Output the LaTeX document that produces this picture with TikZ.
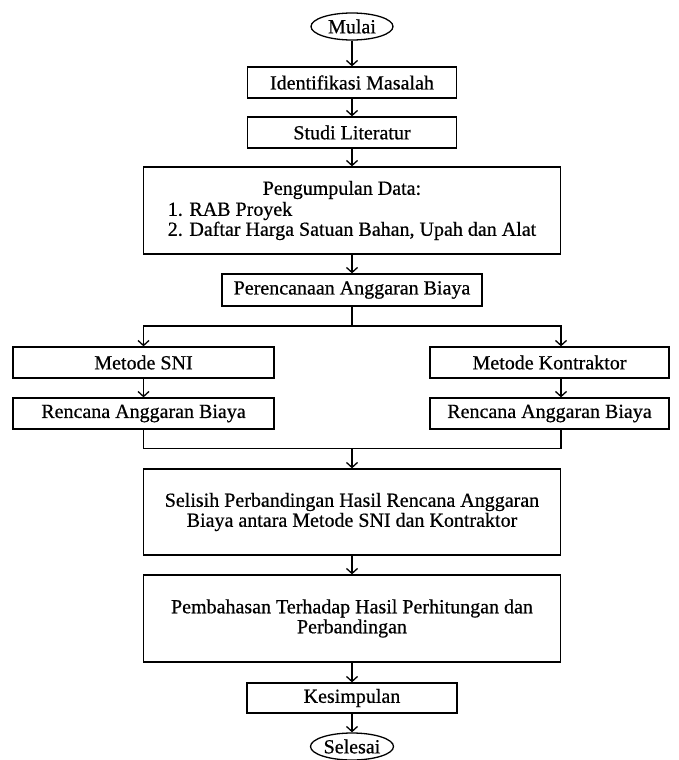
\documentclass[tikz,border=0pt]{standalone}
\usepackage{fontspec}
\setmainfont{Liberation Serif}[FakeBold=0.6]
\usetikzlibrary{arrows.meta,shapes.geometric}
\begin{document}
\begin{tikzpicture}[x=1pt,y=-1pt,
  box/.style={draw, line width=1.3pt, inner sep=0pt, font=\fontsize{20}{20}\selectfont},
  term/.style={ellipse, draw, line width=1.3pt, inner sep=0pt, font=\fontsize{20}{20}\selectfont},
  arr/.style={line width=1.3pt, -{Straight Barb[length=5pt,width=11pt,line width=1.3pt]}},
  ln/.style={line width=1.3pt}]
\useasboundingbox (0,0) rectangle (678,760);
\node[term, minimum width=82pt, minimum height=27pt] (mulai) at (352,26.5) {Mulai};
\node[box, minimum width=209pt, minimum height=31pt] (ident) at (352,82.5) {Identifikasi Masalah};
\node[box, minimum width=209pt, minimum height=31pt] (studi) at (352,132.5) {Studi Literatur};
\node[box, minimum width=417pt, minimum height=87pt, align=left] (data) at (352,210.5)
  {\hspace*{95pt}Pengumpulan Data:\\[1pt]1. RAB Proyek\\2. Daftar Harga Satuan Bahan, Upah dan Alat};
\node[box, minimum width=260pt, minimum height=32pt] (renc) at (352,290) {Perencanaan Anggaran Biaya};
\node[box, minimum width=261pt, minimum height=31pt] (sni) at (143.5,362.5) {Metode SNI};
\node[box, minimum width=239pt, minimum height=31pt] (kon) at (549.5,362.5) {Metode Kontraktor};
\node[box, minimum width=261pt, minimum height=31pt] (rab1) at (143.5,413.5) {Rencana Anggaran Biaya};
\node[box, minimum width=239pt, minimum height=31pt] (rab2) at (549.5,413.5) {Rencana Anggaran Biaya};
\node[box, minimum width=417pt, minimum height=86pt, align=center] (selisih) at (352,512)
  {Selisih Perbandingan Hasil Rencana Anggaran\\Biaya antara Metode SNI dan Kontraktor};
\node[box, minimum width=417pt, minimum height=87pt, align=center] (bahas) at (352,618.5)
  {Pembahasan Terhadap Hasil Perhitungan dan\\Perbandingan};
\node[box, minimum width=210pt, minimum height=30pt] (simpul) at (352,698) {Kesimpulan};
\node[term, minimum width=83pt, minimum height=27pt] (selesai) at (352,746.5) {Selesai};

\coordinate (split) at (352,326);
\coordinate (merge) at (352,448.5);

\draw[arr] (mulai) -- (ident);
\draw[arr] (ident) -- (studi);
\draw[arr] (studi) -- (data);
\draw[arr] (data) -- (renc);
\draw[ln] (renc.south) -- (split);
\draw[arr] (split) -| (sni.north);
\draw[arr] (split) -| ([xshift=11.5pt]kon.north);
\draw[arr] (sni) -- (rab1);
\draw[arr] ([xshift=11.5pt]kon.south) -- ([xshift=11.5pt]rab2.north);
\draw[ln] (rab1.south) |- (merge);
\draw[ln] ([xshift=11.5pt]rab2.south) |- (merge);
\draw[arr] (merge) -- (selisih.north);
\draw[arr] (selisih) -- (bahas);
\draw[arr] (bahas) -- (simpul);
\draw[arr] (simpul) -- (selesai);
\end{tikzpicture}
\end{document}
